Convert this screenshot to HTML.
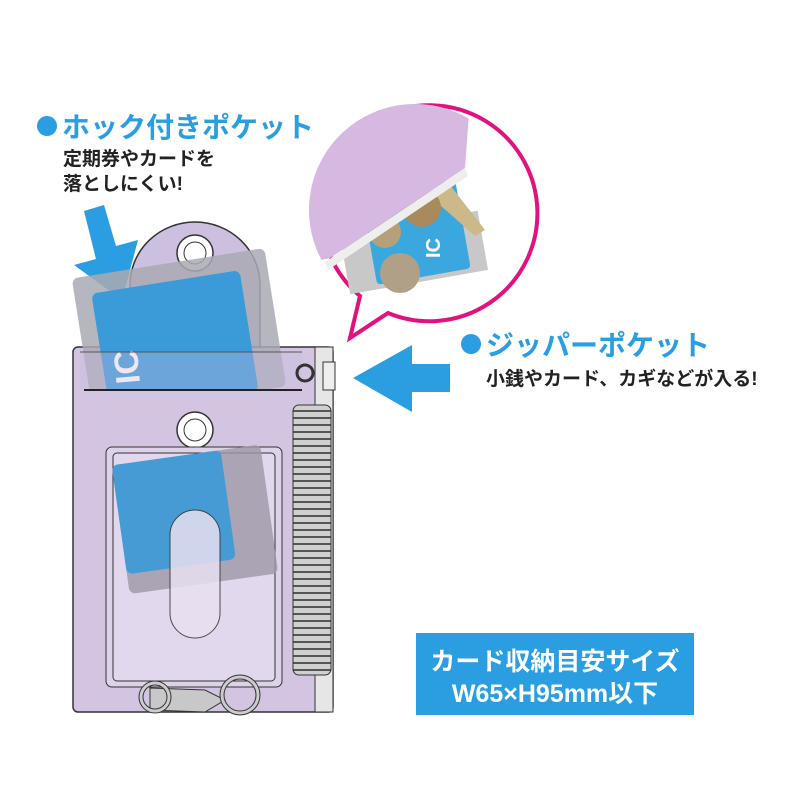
<!DOCTYPE html>
<html><head><meta charset="utf-8"><style>
html,body{margin:0;padding:0;background:#fff;}
svg{display:block}
text{font-family:"Liberation Sans","Noto Sans CJK JP",sans-serif;font-weight:bold}
</style></head><body>
<svg width="800" height="800" viewBox="0 0 800 800" xmlns="http://www.w3.org/2000/svg">
<defs><pattern id="coil" width="10" height="7" patternUnits="userSpaceOnUse"><rect width="10" height="7" fill="#d0d0d0"/><rect y="4" width="10" height="2" fill="#555"/></pattern>
<clipPath id="top"><rect x="0" y="0" width="800" height="390"/></clipPath></defs>
<rect width="800" height="800" fill="#fff"/>
<!-- Labels -->
<circle cx="47" cy="126" r="10" fill="#2a9ee0"/>
<text x="62" y="137" font-size="28" fill="#2a9ee0">ホック付きポケット</text>
<text x="63" y="165" font-size="19" fill="#222">定期券やカードを</text>
<text x="63" y="190" font-size="19" fill="#222">落としにくい!</text>
<circle cx="471" cy="344" r="10" fill="#2a9ee0"/>
<text x="486" y="355" font-size="28" fill="#2a9ee0">ジッパーポケット</text>
<text x="486" y="385" font-size="19" fill="#222">小銭やカード、カギなどが入る!</text>
<!-- arrows -->
<polygon points="84,211 104,205 116,246 138,240 122,300 74,265 96,259" fill="#2a9ee0"/>
<polygon points="353,378 412,345 412,364 450,364 450,392 412,392 412,412" fill="#2a9ee0"/>
<!-- bubble -->
<path d="M360,296 A108,108 0 1 1 388,313 L350,338 Z" fill="#fff" stroke="#e2117e" stroke-width="4"/>
<clipPath id="bc"><circle cx="415" cy="210" r="106"/></clipPath>
<g clip-path="url(#bc)">
<rect x="345" y="225" width="140" height="60" fill="#c8c8c8" transform="rotate(-10 400 260)"/>
<rect x="368" y="190" width="95" height="90" rx="4" fill="#3aa8de" transform="rotate(-10 400 230)"/>
<text x="440" y="258" font-size="20" fill="#fff" transform="rotate(-90 440 258)">IC</text>
<polygon points="430,185 450,185 485,230 475,236 440,205" fill="#cbb98a"/>
<circle cx="422" cy="208" r="19" fill="#a88a5c"/>
<circle cx="385" cy="232" r="16" fill="#b5a07a"/>
<circle cx="400" cy="273" r="20" fill="#b0a088"/>
<polygon points="300,100 470,100 465,168 330,258 300,265" fill="#d6b8e0"/>
<polygon points="325,262 465,168 468,176 328,270" fill="#eee"/>
</g>
<!-- pouch flap -->
<path d="M130,350 L130,285 A65,63 0 0 1 260,285 L260,350 Z" fill="#cdbfe0" stroke="#333" stroke-width="1.5"/>
<circle cx="195" cy="253" r="18" fill="#fff" stroke="#333" stroke-width="1.5"/>
<circle cx="195" cy="253" r="11" fill="none" stroke="#333" stroke-width="1"/>
<!-- body -->
<rect x="73" y="347" width="260" height="365" rx="5" fill="#d3c5e2" stroke="#333" stroke-width="1.5"/>
<!-- card tilted -->
<g clip-path="url(#top)">
<g transform="rotate(-9 180 310)">
<rect x="78" y="262" width="195" height="140" rx="6" fill="#a9a9b3" opacity="0.85"/>
<rect x="95" y="280" width="150" height="122" rx="6" fill="#3b9ad8"/>
</g>
<text x="140" y="383" font-size="34" fill="#fff" font-weight="normal" transform="rotate(-95 140 383)">IC</text>
</g>
<rect x="80" y="352" width="222" height="38" fill="#c9bbdc" opacity="0.35"/>
<line x1="80" y1="352" x2="302" y2="352" stroke="#555" stroke-width="1"/>
<line x1="84" y1="390" x2="302" y2="390" stroke="#222" stroke-width="2"/>
<rect x="315" y="347" width="18" height="365" fill="#e6e6e6" stroke="#333" stroke-width="1"/>
<rect x="323" y="362" width="12" height="28" fill="#eee" stroke="#333"/>
<circle cx="195" cy="430" r="18" fill="#fff" stroke="#333" stroke-width="1.5"/>
<circle cx="195" cy="430" r="11" fill="none" stroke="#333"/>
<rect x="106" y="447" width="176" height="240" rx="6" fill="#ddd2ea" stroke="#333" stroke-width="1"/>
<rect x="113" y="453" width="162" height="228" rx="4" fill="#e2d8ee" stroke="#333" stroke-width="1"/>
<g transform="rotate(-8 190 520)">
<rect x="120" y="455" width="150" height="130" rx="6" fill="#9c97a6" opacity="0.8"/>
<rect x="120" y="455" width="110" height="110" rx="6" fill="#3b9ad8" opacity="0.9"/>
</g>
<rect x="170" y="510" width="50" height="128" rx="25" fill="#e8e0f0" opacity="0.85" stroke="#333"/>
<!-- coil -->
<rect x="293" y="405" width="38" height="270" rx="6" fill="url(#coil)" stroke="#333"/>
<circle cx="305" cy="373" r="8" fill="none" stroke="#333" stroke-width="3"/>
<!-- clasp -->
<path d="M150,688 L205,690 L225,700 L205,712 L150,710 Z" fill="#c8c8c8" stroke="#333"/>
<circle cx="155" cy="697" r="14" fill="none" stroke="#333" stroke-width="5"/>
<circle cx="155" cy="697" r="14" fill="none" stroke="#ccc" stroke-width="3"/>
<circle cx="240" cy="695" r="18" fill="none" stroke="#333" stroke-width="5"/>
<circle cx="240" cy="695" r="18" fill="none" stroke="#ccc" stroke-width="3"/>
<!-- badge -->
<rect x="416" y="633" width="278" height="82" fill="#2a9ee0"/>
<text x="555" y="670" font-size="25" fill="#fff" text-anchor="middle">カード収納目安サイズ</text>
<text x="555" y="702" font-size="25" fill="#fff" text-anchor="middle">W65×H95mm以下</text>
</svg>
</body></html>
